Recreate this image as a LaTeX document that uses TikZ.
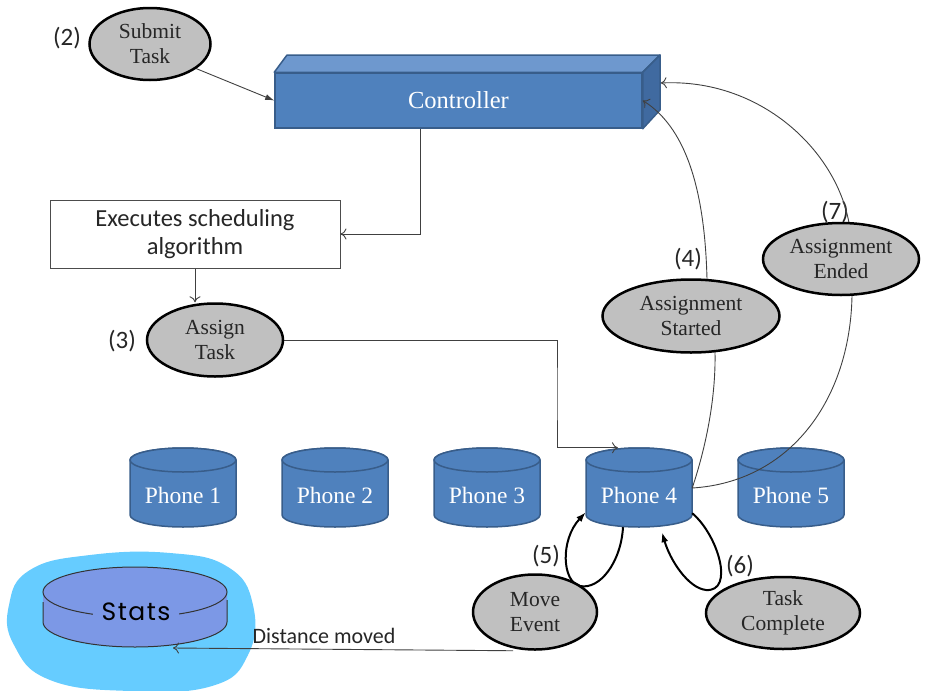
\documentclass[tikz,border=0pt]{standalone}
\usepackage{fontspec}
\setmainfont{Liberation Serif}
\newfontfamily\calib{Carlito}
\newfontfamily\statsfont[LetterSpace=6]{Poppins}
\usetikzlibrary{shapes.geometric,arrows.meta}
\pgfdeclarelayer{front}
\pgfsetlayers{main,front}
\definecolor{ofblue}{RGB}{79,129,189}
\definecolor{ofdark}{RGB}{56,93,138}
\definecolor{oftop}{RGB}{110,152,206}
\definecolor{ofside}{RGB}{64,106,160}
\definecolor{evgray}{RGB}{192,192,192}
\definecolor{blobcol}{RGB}{102,204,255}
\definecolor{diskcol}{RGB}{124,152,230}
\begin{document}
\begin{tikzpicture}[x=1pt,y=-1pt,
  ev/.style={ellipse,draw=black,line width=2.5pt,fill=evgray,inner sep=0pt,align=center,
    font=\fontsize{21.5}{25}\selectfont,text=black!85},
  num/.style={font=\calib\fontsize{25}{28}\selectfont,inner sep=0pt,text=black!85},
  conn/.style={draw=black!75,line width=0.9pt},
  openarrow/.style={-{To[length=6pt,width=11pt]}},
  filledarrow/.style={-{Latex[length=9pt,width=6pt]}},
  loopline/.style={draw=black,line width=2pt,-{Latex[length=10pt,width=7pt]}},
  phtext/.style={text=white,font=\fontsize{23.5}{26}\selectfont,minimum width=106pt,minimum height=64pt,inner sep=0pt},
  bluebody/.style={fill=ofblue,draw=ofdark,line width=1.5pt,line join=round},
]
\useasboundingbox (0,0) rectangle (935,691);

% Stats blob and disk
\fill[blobcol] plot[smooth cycle,tension=0.75] coordinates {(9,605) (30,570) (90,555) (170,553) (228,567) (253,605) (248,655) (212,686) (130,691) (50,680) (14,645)};
\fill[diskcol] (43,592) -- (43,622) arc[start angle=180,end angle=0,x radius=92,y radius=25] -- (227,592) arc[start angle=0,end angle=-180,x radius=92,y radius=25] -- cycle;
\draw[black!80,line width=1pt] (135,592) ellipse[x radius=92,y radius=25];
\draw[black!80,line width=1pt] (43,602) -- (43,622) arc[start angle=180,end angle=0,x radius=92,y radius=25] -- (227,600);
\node[fill=diskcol,inner xsep=9pt,inner ysep=2pt,font=\statsfont\fontsize{25}{27}\selectfont] (stats) at (136,612) {Stats};
\coordinate (statsin) at (173,648);

% Controller
\node[fill=ofblue,draw=ofdark,line width=1.5pt,minimum width=367pt,minimum height=55pt,inner sep=0pt,
  text=white,font=\fontsize{24.5}{26}\selectfont] (ctrl) at (458.5,100.5) {Controller};
\filldraw[fill=oftop,draw=ofdark,line width=1.5pt,line join=round] (ctrl.north west) -- (287,55) -- (660,55) -- (ctrl.north east) -- cycle;
\filldraw[fill=ofside,draw=ofdark,line width=1.5pt,line join=round] (ctrl.north east) -- (660,55) -- (660,110) -- (ctrl.south east) -- cycle;

% Phones
\foreach \i/\x in {1/183,2/335,3/487,4/639,5/791}{
  \filldraw[bluebody] (\x-53,460) -- (\x-53,515) arc[start angle=180,end angle=0,x radius=53,y radius=12]
     -- (\x+53,460) arc[start angle=0,end angle=-180,x radius=53,y radius=12] -- cycle;
  \filldraw[bluebody] (\x,460) ellipse[x radius=53,y radius=12];
  \node[phtext] (p\i) at (\x,495) {Phone \i};
}

% Exec box
\node[draw=black!70,line width=1pt,fill=white,minimum width=290pt,minimum height=68pt,inner sep=0pt,align=center,
  font=\calib\fontsize{24.5}{28}\selectfont,text=black!85] (exec) at (195,234) {Executes scheduling\\algorithm};

% Event ellipses
\begin{pgfonlayer}{front}
\node[ev,minimum width=121pt,minimum height=72pt] (submit) at (150,44) {Submit\\Task};
\node[ev,minimum width=136pt,minimum height=73pt] (assign) at (215,340) {Assign\\Task};
\node[ev,minimum width=177pt,minimum height=73pt] (astart) at (691,316) {Assignment\\Started};
\node[ev,minimum width=156pt,minimum height=72pt] (aend) at (841,259) {Assignment\\Ended};
\node[ev,minimum width=124pt,minimum height=75pt] (move) at (535,612) {Move\\Event};
\node[ev,minimum width=154pt,minimum height=72pt] (task) at (783,613) {Task\\Complete};
\end{pgfonlayer}

% Numbers
\node[num] (n2) at (67,38) {(2)};
\node[num] (n3) at (122,341) {(3)};
\node[num] (n4) at (688,259) {(4)};
\node[num] (n5) at (546,556) {(5)};
\node[num] (n6) at (740,566) {(6)};
\node[num] (n7) at (835,212) {(7)};
\node[font=\calib\fontsize{22}{26}\selectfont,inner sep=0pt,text=black!85] (dist) at (324,636) {Distance moved};

% Connectors
\coordinate (cx) at (420,0);
\coordinate (bend) at (557,394);
\draw[conn,filledarrow] (submit.-28) -- (ctrl.west);
\draw[conn,openarrow] (ctrl.south -| cx) |- (exec.east);
\draw[conn,openarrow] (exec.south) -- (exec.south |- assign.north);
\draw[conn,openarrow] (assign.east) -| (bend) |- ([xshift=-21pt,yshift=15pt]p4.north);
\draw[conn,openarrow] ([yshift=7pt]p4.east) .. controls (705,450) and (716,400) .. (715,352)
   -- (707,279) .. controls (705,200) and (690,130) .. (ctrl.east);
\draw[conn,openarrow] ([yshift=7pt]p4.east) .. controls (790,482) and (850,400) .. (852,296)
   -- (849,223) .. controls (836,150) and (760,78) .. ([xshift=18pt,yshift=17.5pt]ctrl.east);
\draw[loopline] ([xshift=-16pt]p4.south) .. controls (621,562) and (600,590) .. (580,586)
   .. controls (562,582) and (560,540) .. ([yshift=15pt]p4.south west);
\draw[loopline] ([yshift=14pt]p4.south east) .. controls (718,535) and (735,592) .. (706,590)
   .. controls (688,588) and (670,560) .. ([xshift=23pt,yshift=-5pt]p4.south);
\draw[conn,openarrow] ([xshift=-22pt]move.south) -- (statsin);
\end{tikzpicture}
\end{document}
